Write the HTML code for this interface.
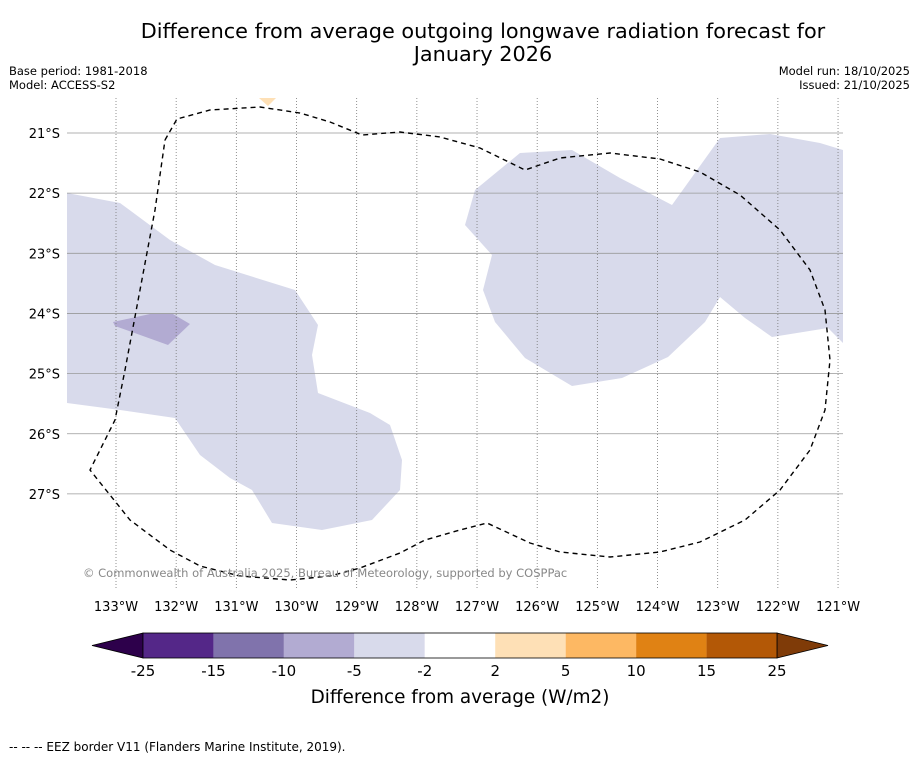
<!DOCTYPE html>
<html><head><meta charset="utf-8">
<style>
body{margin:0;background:#fff;font-family:"DejaVu Sans","Liberation Sans",sans-serif;}
#wrap{position:relative;width:919px;height:758px;overflow:hidden;background:#fff;}
</style></head>
<body>
<div id="wrap">
<svg id="svg" width="919" height="758" xmlns="http://www.w3.org/2000/svg" font-family="DejaVu Sans, Liberation Sans, sans-serif">
<text x="483" y="38" font-size="20.8" text-anchor="middle" fill="#000">Difference from average outgoing longwave radiation forecast for</text>
<text x="483" y="61" font-size="20.8" text-anchor="middle" fill="#000">January 2026</text>
<text x="9" y="75" font-size="11.5">Base period: 1981-2018</text>
<text x="9" y="89" font-size="11.5">Model: ACCESS-S2</text>
<text x="910" y="75" font-size="11.5" text-anchor="end">Model run: 18/10/2025</text>
<text x="910" y="89" font-size="11.5" text-anchor="end">Issued: 21/10/2025</text>
<g id="map">
<polygon fill="#d8daeb" points="67,193 120,203 170,240 215,265 295,290 318,325 312,355 318,393 370,413 390,425 402,460 400,490 372,520 322,530 272,523 252,490 230,478 200,455 175,418 120,410 67,403"/>
<polygon fill="#b2abd2" points="113,322 150,314 173,314 190,324 168,345 115,326"/>
<polygon fill="#d8daeb" points="475,190 520,153 572,150 620,178 672,205 720,138 770,134 820,143 843,150 843,343 828,328 772,337 745,318 720,297 705,322 668,357 622,378 572,386 525,358 495,322 483,290 492,255 465,225"/>
<polygon fill="#fee0b6" points="259,98 276,98 268,106"/>
<g id="grid"></g>
<polyline fill="none" stroke="#000" stroke-width="1.4" stroke-dasharray="5,4" points="165,140 177,119 210,110 260,107 300,113 330,122 362,135 400,132 440,137 480,148 525,170 560,158 610,153 660,159 700,172 740,195 780,230 810,270 825,310 830,360 825,410 810,450 780,490 745,520 700,542 660,552 610,557 560,552 530,543 487,523 460,530 425,540 400,553 360,568 330,576 290,580 240,576 200,566 170,550 130,520 90,470 115,420 125,370 140,290 155,210 165,140"/>
<text x="83" y="577" font-size="11.5" fill="#888">© Commonwealth of Australia 2025, Bureau of Meteorology, supported by COSPPac</text>
</g>
<g id="xticks"></g><g id="yticks"></g>
<g id="cbar"></g>
<text x="460" y="703" font-size="18.4" text-anchor="middle">Difference from average (W/m2)</text>
<text x="9" y="751" font-size="12">--  --  -- EEZ border V11 (Flanders Marine Institute, 2019).</text>
</svg>
</div>
<script>
const lonTicks=[133,132,131,130,129,128,127,126,125,124,123,122,121];
const latTicks=[21,22,23,24,25,26,27];
const cbColors=["#542788","#8073ac","#b2abd2","#d8daeb","#ffffff","#fee0b6","#fdb863","#e08214","#b35806"];
const cbLabels=["-25","-15","-10","-5","-2","2","5","10","15","25"];
const extLow="#2d004b", extHigh="#7f3b08";
const NS="http://www.w3.org/2000/svg";
const X0=67,X1=843,Y0=98,Y1=590;
const xOf=lon=>116+(133-lon)*60.17;
const yOf=lat=>133+(lat-21)*60.15;
function mk(t,a,p){const e=document.createElementNS(NS,t);for(const k in a)e.setAttribute(k,a[k]);p.appendChild(e);return e;}
const grid=document.getElementById('grid'),xt=document.getElementById('xticks'),yt=document.getElementById('yticks');
lonTicks.forEach(l=>{const x=xOf(l);
const ln=mk('line',{x1:x,x2:x,y1:Y0,y2:Y1,stroke:'#777','stroke-width':0.8,'stroke-dasharray':'1,2'},grid);


const t=mk('text',{x:x,y:611,'font-size':13,'text-anchor':'middle'},xt);t.textContent=l+'°W';

});
latTicks.forEach(l=>{const y=yOf(l);
const ln=mk('line',{x1:X0,x2:X1,y1:y,y2:y,stroke:'#999','stroke-width':0.8},grid);


const t=mk('text',{x:60,y:y+5,'font-size':13,'text-anchor':'end'},yt);t.textContent=l+'°S';

});
const cb=document.getElementById('cbar');
const cx0=143,cx1=777,cy0=633,cy1=658,w=(cx1-cx0)/cbColors.length;
const lo=mk('polygon',{points:`${cx0},${cy0} 92,${(cy0+cy1)/2} ${cx0},${cy1}`,fill:extLow,stroke:'#000','stroke-width':0.8},cb);


const hi=mk('polygon',{points:`${cx1},${cy0} 828,${(cy0+cy1)/2} ${cx1},${cy1}`,fill:extHigh,stroke:'#000','stroke-width':0.8},cb);


cbColors.forEach((c,i)=>{const r=mk('rect',{x:cx0+i*w,y:cy0,width:w,height:cy1-cy0,fill:c},cb);

});
mk('rect',{x:cx0,y:cy0,width:cx1-cx0,height:cy1-cy0,fill:'none',stroke:'#000','stroke-width':0.8},cb);
cbLabels.forEach((s,i)=>{const t=mk('text',{x:cx0+i*w,y:676,'font-size':15,'text-anchor':'middle'},cb);t.textContent=s;

});
</script>
</body></html>
